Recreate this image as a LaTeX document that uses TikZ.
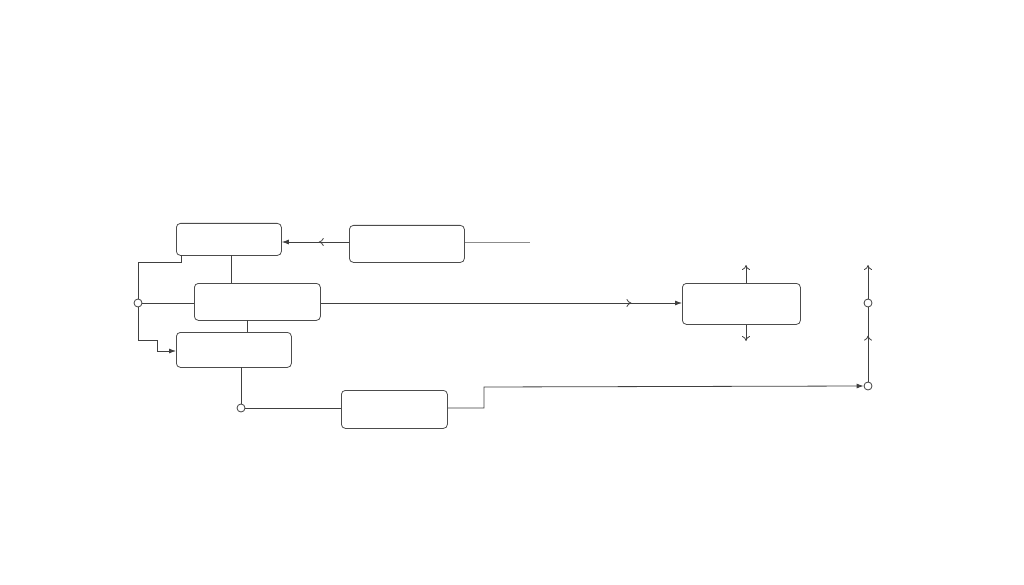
\documentclass[tikz,border=0pt]{standalone}
\usetikzlibrary{arrows.meta,decorations.markings}
\begin{document}
\begin{tikzpicture}[x=1pt,y=-1pt,line width=0.8pt,draw=black!75,
  box/.style={draw=black!70,rounded corners=4pt,inner sep=0pt,anchor=north west},
  dot/.style={circle,draw=black!75,fill=white,inner sep=0pt,minimum size=8pt},
  tip/.style={-{Latex[length=7pt,width=5pt]}},
  open/.style={-{To[length=5pt,width=8pt]}},
  midopen/.style={postaction={decorate},decoration={markings,mark=at position #1 with {\arrow{To[length=5pt,width=8pt]}}}}]
\useasboundingbox (0,0) rectangle (1024,585);
\fill[white] (0,0) rectangle (1024,585);
\node[box,minimum width=105pt,minimum height=32pt] (A) at (176,223) {};
\node[box,minimum width=115pt,minimum height=37pt] (B) at (349,225) {};
\node[box,minimum width=126pt,minimum height=37pt] (C) at (194,283) {};
\node[box,minimum width=115pt,minimum height=35pt] (D) at (176,332) {};
\node[box,minimum width=106pt,minimum height=38pt] (E) at (341,390) {};
\node[box,minimum width=118pt,minimum height=41pt] (F) at (682,283) {};
\node[dot] (c1) at (138,303) {};
\node[dot] (c2) at (241,408) {};
\node[dot] (c3) at (868,386) {};
\node[dot] (c4) at (868,303) {};
\coordinate (bend) at (530,242);
\coordinate (fu) at (746,265);
\coordinate (fd) at (746,341);
\coordinate (top) at (868,265);
% B to A
\draw[tip,midopen=0.45] (B.west |- 0,242) -- (A.east |- 0,242);
\draw[draw=black!45] (B.east |- 0,242) -- (bend);
% left loop
\draw (181,255) -- (181,262) -- (138,262) -- (c1.north);
\draw[tip] (c1.south) -- (138,340) -- (157,340) -- (157,351) -- (D.west |- 0,351);
\draw (c1.east) -- (C.west |- 0,303);
\draw (231,255) -- (231,283);
\draw (247,320) -- (247,332);
\draw (241,367) -- (c2.north);
\draw (c2.east) -- (E.west |- 0,408);
\draw[tip] (E.east |- 0,408) -- (484,408) -- (484,387) -- (c3.west);
\draw[tip,midopen=0.86] (C.east |- 0,303) -- (F.west |- 0,303);
\draw[open] (F.north -| fu) -- (fu);
\draw[open] (F.south -| fd) -- (fd);
\draw[midopen=0.62] (c3.north) -- (c4.south);
\draw[open] (c4.north) -- (top);
\end{tikzpicture}
\end{document}
